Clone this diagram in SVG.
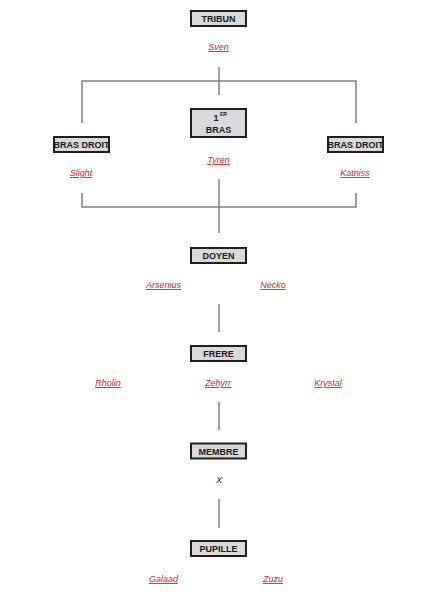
<svg xmlns="http://www.w3.org/2000/svg" width="438" height="600" viewBox="0 0 438 600">
<style>
.box{fill:#d9d9d9;stroke:#1f1f1f;stroke-width:2}
.t{font-family:"Liberation Sans",Arial,sans-serif;font-weight:bold;font-size:9px;fill:#1a1a1a;text-anchor:middle}
.sup{font-family:"Liberation Sans",Arial,sans-serif;font-weight:bold;font-size:5px;fill:#1a1a1a}
.n{font-family:"Liberation Sans",Arial,sans-serif;font-style:italic;font-size:9px;fill:#d42424;text-anchor:middle;text-decoration:underline}
.x{font-family:"Liberation Sans",Arial,sans-serif;font-style:italic;font-size:9px;fill:#1a1a1a;text-anchor:middle}
.c{fill:none;stroke:#808080;stroke-width:1.5}
</style>
<rect width="438" height="600" fill="#ffffff"/>
<g id="connectors">
<path class="c" d="M219,67 V95"/>
<path class="c" d="M82,123 V81 H356 V123"/>
<path class="c" d="M82,193 V207 H356 V193"/>
<path class="c" d="M219,179 V233"/>
<path class="c" d="M219,304 V332"/>
<path class="c" d="M219,402 V430"/>
<path class="c" d="M219,499 V528"/>
</g>
<g id="tribun">
<rect class="box" x="191" y="11" width="55" height="15"/>
<text class="t" x="218.5" y="22">TRIBUN</text>
<text class="n" x="218.5" y="50">Sven</text>
</g>
<g id="premier-bras">
<rect class="box" x="191" y="109" width="55" height="28"/>
<text class="t" x="216" y="121">1</text>
<text class="sup" x="220" y="116">ER</text>
<text class="t" x="218.5" y="133">BRAS</text>
<text class="n" x="218.5" y="163">Tyren</text>
</g>
<g id="bras-droit-gauche">
<rect class="box" x="54" y="137" width="55" height="15"/>
<text class="t" x="81.5" y="148">BRAS DROIT</text>
<text class="n" x="81" y="176">Slight</text>
</g>
<g id="bras-droit-droite">
<rect class="box" x="328" y="137" width="55" height="15"/>
<text class="t" x="355.5" y="148">BRAS DROIT</text>
<text class="n" x="355" y="176">Katniss</text>
</g>
<g id="doyen">
<rect class="box" x="191" y="248" width="55" height="15"/>
<text class="t" x="218.5" y="259">DOYEN</text>
<text class="n" x="163.5" y="288">Arsenius</text>
<text class="n" x="273" y="288">Necko</text>
</g>
<g id="frere">
<rect class="box" x="191" y="346" width="55" height="15"/>
<text class="t" x="218.5" y="357">FRERE</text>
<text class="n" x="108" y="386">Rholin</text>
<text class="n" x="218" y="386">Zehyrr</text>
<text class="n" x="328" y="386">Krystal</text>
</g>
<g id="membre">
<rect class="box" x="191" y="443.5" width="55" height="15"/>
<text class="t" x="218.5" y="454.5">MEMBRE</text>
<text class="x" x="219" y="483">X</text>
</g>
<g id="pupille">
<rect class="box" x="191" y="541" width="55" height="15"/>
<text class="t" x="218.5" y="552">PUPILLE</text>
<text class="n" x="163.5" y="582">Galaad</text>
<text class="n" x="273" y="582">Zuzu</text>
</g>
</svg>
